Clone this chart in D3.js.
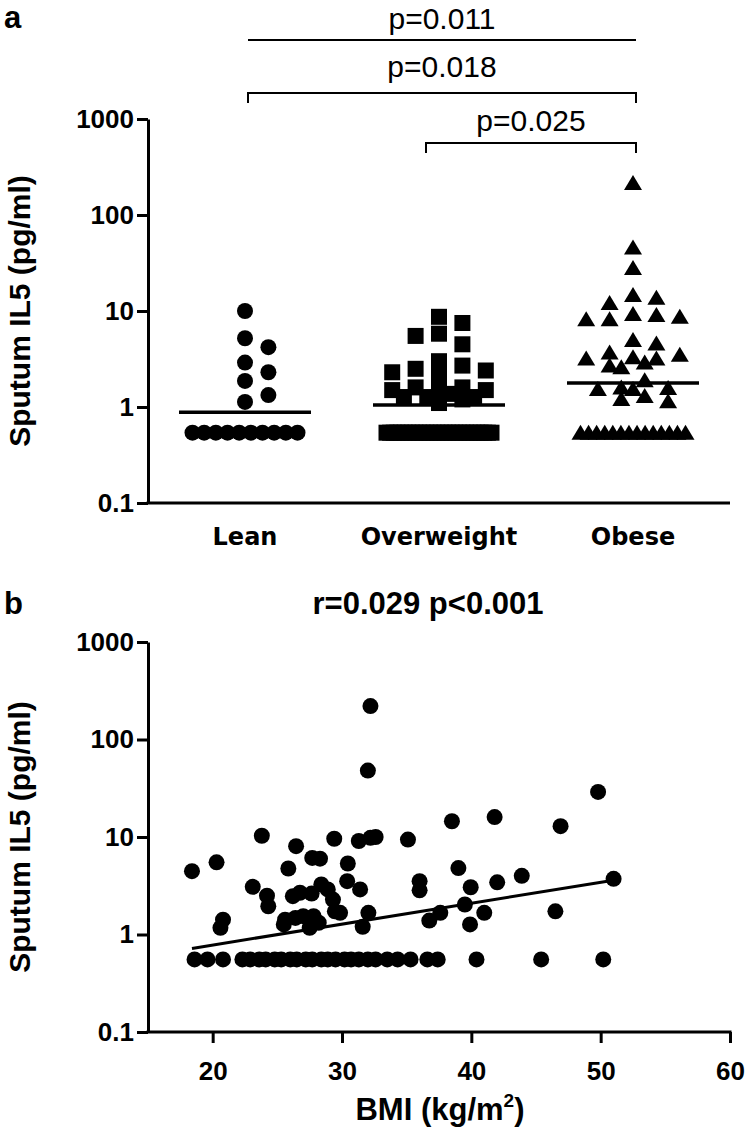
<!DOCTYPE html>
<html><head><meta charset="utf-8">
<script src="https://cdn.jsdelivr.net/npm/d3@7"></script>
<style>body{margin:0;background:#fff} svg{display:block}</style>
</head><body><svg id="c" width="748" height="1138"></svg>
<script>
// ---------------- DATA ----------------
const categories = ["Lean", "Overweight", "Obese"];
const leanIL5 = [10, 5.2, 4.2, 2.9, 2.3, 1.87, 1.33, 1.13,
  0.54, 0.54, 0.54, 0.54, 0.54, 0.54, 0.54, 0.54, 0.54, 0.54];
const overweightIL5 = [8.7, 7.5, 5.8, 5.5, 4.5, 3.0, 2.7, 2.5, 2.4, 2.3, 2.15,
  1.6, 1.6, 1.5, 1.5, 1.5, 1.37, 1.27, 1.27, 1.27, 1.2, 1.1,
  0.54, 0.54, 0.54, 0.54, 0.54, 0.54, 0.54, 0.54, 0.54, 0.54,
  0.54, 0.54, 0.54, 0.54, 0.54, 0.54, 0.54, 0.54, 0.54, 0.54,
  0.54, 0.54, 0.54, 0.54, 0.54, 0.54, 0.54, 0.54, 0.54, 0.54];
const obeseIL5 = [215, 46, 28, 14.7, 13.7, 12.1, 9.3, 9.1, 8.7, 8.2, 8.2,
  5.0, 4.6, 3.7, 3.5, 3.3, 3.2, 3.2, 2.9, 2.7, 2.6, 1.9, 1.6, 1.58, 1.54, 1.54,
  1.3, 1.21, 1.15,
  0.54, 0.54, 0.54, 0.54, 0.54, 0.54, 0.54, 0.54, 0.54, 0.54, 0.54, 0.54, 0.54, 0.54];
const groupMeans = [0.88, 1.05, 1.78];
const comparisons = [
  {from: "Lean", to: "Obese", label: "p=0.011", kind: "line"},
  {from: "Lean", to: "Obese", label: "p=0.018", kind: "bracket"},
  {from: "Overweight", to: "Obese", label: "p=0.025", kind: "bracket"}
];
const yTicks = [0.1, 1, 10, 100, 1000];
const yTickLabels = ["0.1", "1", "10", "100", "1000"];
const yTitle = "Sputum IL5 (pg/ml)";

const bmi = [32.2, 32.0, 49.8, 41.8, 38.5, 46.9, 23.8, 29.4, 31.3, 32.2, 32.6, 35.1,
  26.45, 27.7, 28.3, 20.3, 30.45, 25.85, 18.4, 39.0, 43.9, 51.0, 30.4, 36.0, 42.0,
  28.4, 23.1, 39.95, 28.9, 31.4, 36.0, 26.75, 27.65, 24.2, 26.2, 29.3, 39.5, 24.3,
  29.45, 46.5, 29.85, 32.04, 41.0, 37.6, 27.0, 27.8, 26.4, 20.8, 25.6, 36.75, 28.2,
  25.5, 39.9, 31.6, 20.6, 27.5,
  18.6, 19.6, 20.8, 22.3, 22.9, 23.6, 24.1, 24.8, 25.3, 26.0, 26.5, 27.2, 27.7,
  28.4, 28.9, 29.5, 30.2, 30.7, 31.3, 32.0, 32.6, 33.5, 34.3, 35.3, 36.6, 37.4,
  40.4, 45.4, 50.2];
const bmiIL5 = [220, 48, 29, 16, 14.5, 12.9, 10.3, 9.6, 9.1, 9.8, 10, 9.4,
  8.05, 6.1, 6.0, 5.5, 5.35, 4.75, 4.46, 4.8, 4.0, 3.72, 3.52, 3.52, 3.43,
  3.26, 3.08, 3.05, 2.9, 2.9, 2.84, 2.68, 2.63, 2.5, 2.47, 2.28, 2.03, 1.95,
  1.73, 1.73, 1.67, 1.67, 1.67, 1.67, 1.54, 1.54, 1.48, 1.42, 1.42, 1.39, 1.32,
  1.27, 1.27, 1.2, 1.17, 1.17,
  0.555, 0.555, 0.555, 0.555, 0.555, 0.555, 0.555, 0.555, 0.555, 0.555, 0.555, 0.555, 0.555,
  0.555, 0.555, 0.555, 0.555, 0.555, 0.555, 0.555, 0.555, 0.555, 0.555, 0.555, 0.555, 0.555,
  0.555, 0.555, 0.555];
const bmiTicks = [20, 30, 40, 50, 60];
const fitBMI = [18.4, 51.0];
const fitIL5 = [0.72, 3.6];
const titleB = "r=0.029 p<0.001";

// ---------------- DRAWING ----------------
const svg = d3.select("#c");
const FONT = "'Liberation Sans', Arial, sans-serif";
const CATFONT = "'DejaVu Sans', Verdana, sans-serif";
const AX = 3;

function styleAxis(g) {
  g.selectAll(".domain").attr("stroke", "#000").attr("stroke-width", AX);
  g.selectAll(".tick line").attr("stroke", "#000").attr("stroke-width", AX);
  g.selectAll(".tick text").attr("fill", "#000").attr("font-family", FONT)
    .attr("font-weight", "bold").attr("font-size", 26);
}

// ---------- Panel a ----------
const yA = d3.scaleLog().domain([0.1, 1000]).range([503, 119]);
const xA = d3.scaleBand().domain(categories).range([148, 730]);
const cx = c => xA(c) + xA.bandwidth() / 2;

svg.append("text").attr("x", 4).attr("y", 28).text("a")
  .attr("font-family", FONT).attr("font-weight", "bold").attr("font-size", 31);

const gyA = svg.append("g").attr("transform", "translate(148,0)")
  .call(d3.axisLeft(yA).tickValues(yTicks).tickFormat((d, i) => yTickLabels[i])
    .tickSize(11).tickSizeOuter(0).tickPadding(3));
styleAxis(gyA);

svg.append("line").attr("x1", xA.range()[0] - 1.5).attr("x2", xA.range()[1])
  .attr("y1", yA(0.1)).attr("y2", yA(0.1)).attr("stroke", "#000").attr("stroke-width", AX);

svg.selectAll(".cat").data(categories).join("text")
  .attr("x", d => cx(d)).attr("y", 545).attr("text-anchor", "middle")
  .attr("font-family", CATFONT).attr("font-weight", "bold").attr("font-size", 24)
  .text(d => d);

svg.append("text").attr("transform", `translate(30,${(yA.range()[0] + yA.range()[1]) / 2}) rotate(-90)`)
  .attr("text-anchor", "middle").attr("font-family", FONT).attr("font-weight", "bold")
  .attr("font-size", 30).text(yTitle);

// swarm layout (Prism-like columns, limited width)
function swarm(values, cxv, size, step, maxHalf, spread) {
  const min = d3.min(values);
  const lod = values.filter(v => v === min);
  const out = [];
  lod.forEach((v, k) => {
    const x = lod.length > 1 ? cxv - spread / 2 + spread * k / (lod.length - 1) : cxv;
    out.push({v, x, y: yA(v)});
  });
  const cands = [0];
  for (let k = 1; k * step <= maxHalf + 0.01; k++) { cands.push(k * step, -k * step); }
  const placed = [];
  values.filter(v => v !== min).sort((a, b) => b - a).forEach(v => {
    const py = yA(v);
    let done = false;
    for (let t = 0.95; t >= 0 && !done; t -= 0.15) {
      for (const off of cands) {
        const px = cxv + off;
        const hit = placed.some(p => Math.abs(p.x - px) < size * t && Math.abs(p.y - py) < size * t);
        if (!hit) { placed.push({v, x: px, y: py}); done = true; break; }
      }
    }
    if (!done) placed.push({v, x: cxv, y: py});
  });
  return out.concat(placed);
}

const groups = [leanIL5, overweightIL5, obeseIL5];
const shapes = ["circle", "square", "triangle"];
groups.forEach((vals, gi) => {
  const pts = swarm(vals, cx(categories[gi]), 16, 11.7, 47, 105);
  const g = svg.append("g");
  if (shapes[gi] === "circle") {
    g.selectAll("circle").data(pts).join("circle")
      .attr("cx", d => d.x).attr("cy", d => d.y).attr("r", 8).attr("fill", "#000");
  } else if (shapes[gi] === "square") {
    g.selectAll("rect").data(pts).join("rect")
      .attr("x", d => d.x - 8).attr("y", d => d.y - 8).attr("width", 16).attr("height", 16).attr("fill", "#000");
  } else {
    g.selectAll("path").data(pts).join("path")
      .attr("d", d => `M${d.x},${d.y - 8} L${d.x + 9},${d.y + 7} L${d.x - 9},${d.y + 7} Z`).attr("fill", "#000");
  }
  svg.append("line").attr("x1", cx(categories[gi]) - 66).attr("x2", cx(categories[gi]) + 66)
    .attr("y1", yA(groupMeans[gi])).attr("y2", yA(groupMeans[gi]))
    .attr("stroke", "#000").attr("stroke-width", 3.5);
});

// significance annotations
const compY = [40, 93, 143];
const compTextY = [29, 77, 131];
comparisons.forEach((c, i) => {
  const x1 = cx(c.from) + (c.from === "Overweight" ? -13 : 3);
  const x2 = cx(c.to) + 3;
  const y = compY[i];
  if (c.kind === "line") {
    svg.append("line").attr("x1", x1).attr("x2", x2).attr("y1", y).attr("y2", y)
      .attr("stroke", "#000").attr("stroke-width", 2);
  } else {
    svg.append("path").attr("d", `M${x1},${y + 10} V${y} H${x2} V${y + 10}`)
      .attr("fill", "none").attr("stroke", "#000").attr("stroke-width", 2);
  }
  svg.append("text").attr("x", (x1 + x2) / 2).attr("y", compTextY[i]).attr("text-anchor", "middle")
    .attr("font-family", FONT).attr("font-size", 30).text(c.label);
});

// ---------- Panel b ----------
const yB = d3.scaleLog().domain([0.1, 1000]).range([1032, 642]);
const xB = d3.scaleLinear().domain([15, 60]).range([148, 730]);

svg.append("text").attr("x", 4).attr("y", 614).text("b")
  .attr("font-family", FONT).attr("font-weight", "bold").attr("font-size", 31);
svg.append("text").attr("x", 428).attr("y", 614).attr("text-anchor", "middle")
  .attr("font-family", FONT).attr("font-weight", "bold").attr("font-size", 31).text(titleB);

const gyB = svg.append("g").attr("transform", "translate(148,0)")
  .call(d3.axisLeft(yB).tickValues(yTicks).tickFormat((d, i) => yTickLabels[i])
    .tickSize(11).tickSizeOuter(0).tickPadding(3));
styleAxis(gyB);
const gxB = svg.append("g").attr("transform", "translate(0,1032)")
  .call(d3.axisBottom(xB).tickValues(bmiTicks).tickSize(11).tickSizeOuter(0).tickPadding(19));
styleAxis(gxB);
gxB.select(".domain").attr("d", `M${xB.range()[0] - 1.5},0H${xB.range()[1] + 1.5}`);

svg.append("text").attr("transform", `translate(30,${(yB.range()[0] + yB.range()[1]) / 2}) rotate(-90)`)
  .attr("text-anchor", "middle").attr("font-family", FONT).attr("font-weight", "bold")
  .attr("font-size", 30).text(yTitle);

const xt = svg.append("text").attr("x", 440).attr("y", 1120).attr("text-anchor", "middle")
  .attr("font-family", FONT).attr("font-weight", "bold").attr("font-size", 31);
xt.append("tspan").text("BMI (kg/m");
xt.append("tspan").attr("dy", -13).attr("font-size", 19).text("2");
xt.append("tspan").attr("dy", 13).text(")");

svg.append("g").selectAll("circle").data(bmi.map((b, i) => ({b, v: bmiIL5[i]}))).join("circle")
  .attr("cx", d => xB(d.b)).attr("cy", d => yB(d.v)).attr("r", 8).attr("fill", "#000");

svg.append("line").attr("x1", xB(fitBMI[0])).attr("x2", xB(fitBMI[1]))
  .attr("y1", yB(fitIL5[0])).attr("y2", yB(fitIL5[1]))
  .attr("stroke", "#000").attr("stroke-width", 3);
</script></body></html>
